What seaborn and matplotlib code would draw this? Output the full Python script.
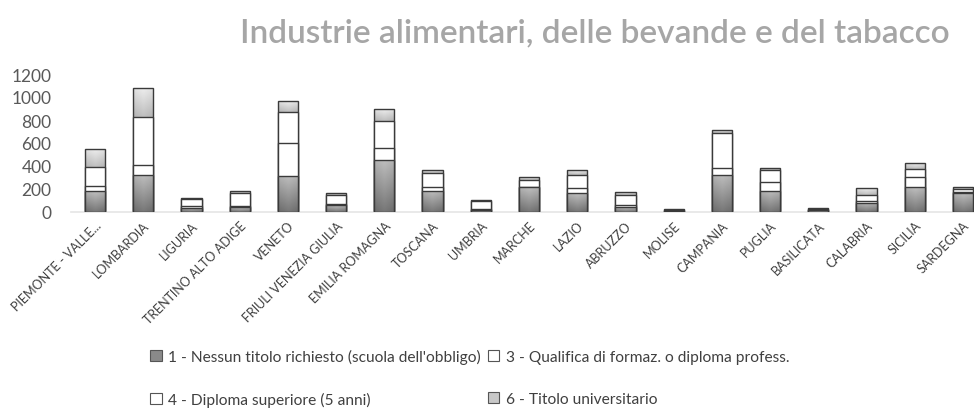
import numpy as np
import pandas as pd
import seaborn as sns
import matplotlib.pyplot as plt
from matplotlib.patches import Patch

regions = ["PIEMONTE - VALLE...", "LOMBARDIA", "LIGURIA", "TRENTINO ALTO ADIGE", "VENETO",
           "FRIULI VENEZIA GIULIA", "EMILIA ROMAGNA", "TOSCANA", "UMBRIA", "MARCHE", "LAZIO",
           "ABRUZZO", "MOLISE", "CAMPANIA", "PUGLIA", "BASILICATA", "CALABRIA", "SICILIA", "SARDEGNA"]
s1 = [180, 322, 35, 40, 316, 60, 455, 185, 20, 215, 163, 41, 10, 322, 183, 15, 80, 215, 165]
s3 = [50, 87, 20, 10, 282, 10, 100, 35, 10, 5, 46, 23, 3, 61, 81, 5, 15, 87, 10]
s4 = [165, 420, 60, 115, 275, 80, 240, 122, 65, 60, 116, 84, 8, 304, 104, 10, 50, 72, 25]
s6 = [150, 247, 5, 15, 90, 15, 100, 23, 10, 25, 40, 29, 3, 26, 18, 5, 60, 52, 20]
labels = ["1 - Nessun titolo richiesto (scuola dell'obbligo)",
          "3 - Qualifica di formaz. o diploma profess.",
          "4 - Diploma superiore (5 anni)",
          "6 - Titolo universitario"]
title = "Industrie alimentari, delle bevande e del tabacco"

sns.set_theme(style="white")
plt.rcParams['font.family'] = ['Lato', 'DejaVu Sans']

series = [s1, s3, s4, s6]
colors = ["#8f8f8f", "#ffffff", "#ffffff", "#c2c2c2"]
cum = np.cumsum(np.array(series), axis=0)

fig = plt.figure(figsize=(9.74, 4.14), dpi=100)
ax = fig.add_axes([71 / 974, (414 - 213) / 414, 1 - 71 / 974, (213 - 75) / 414])

# gradient shading: (bottom grey, top grey) for the two shaded series
grad = {0: (0.42, 0.70), 3: (0.70, 0.88)}
zorders = {3: 2, 2: 3, 1: 4, 0: 5}

for i in range(3, -1, -1):
    df = pd.DataFrame({"region": regions, "val": cum[i]})
    n_before = len(ax.patches)
    sns.barplot(data=df, x="region", y="val", color=colors[i], ax=ax,
                width=0.42, edgecolor="#3a3a3a", linewidth=1.0, saturation=1)
    new = ax.patches[n_before:]
    for j, p in enumerate(new):
        p.set_zorder(zorders[i])
        if i in grad:
            p.set_facecolor("none")
            x0 = p.get_x()
            w = p.get_width()
            top = cum[i][j]
            bot = cum[i - 1][j] if i > 0 else 0
            g0, g1 = grad[i]
            v = np.linspace(g0, g1, 64)[:, None]
            h = 1 - 0.06 * (1 - np.abs(np.linspace(-1, 1, 16)))[None, :]
            img = np.clip(v * h * 1.0 + (1 - h) * 0.0, 0, 1)
            img = np.clip(v + 0.05 * (1 - np.abs(np.linspace(-1, 1, 16)))[None, :], 0, 1)
            im = ax.imshow(img, cmap="gray", vmin=0, vmax=1, origin="lower", aspect="auto",
                           extent=(x0, x0 + w, bot, top), interpolation="bilinear",
                           zorder=zorders[i] - 0.5)
            im.set_clip_path(p)

ax.set_xlim(-0.5, 18.23)
ax.set_ylim(0, 1200)
ax.set_yticks(range(0, 1201, 200))
ax.set_xlabel("")
ax.set_ylabel("")
for sp in ["top", "right", "left"]:
    ax.spines[sp].set_visible(False)
ax.spines["bottom"].set_color("#e6e6e6")
ax.tick_params(axis="y", labelsize=12.5, labelcolor="#595959", length=0, pad=14)
ax.tick_params(axis="x", labelsize=9.0, labelcolor="#404040", length=0, pad=5)
plt.setp(ax.get_xticklabels(), rotation=45, ha="right", rotation_mode="anchor")

fig.text(0.611, 0.92, title, ha="center", va="center", fontsize=24, fontweight="semibold", color="#a6a6a6")

handles = [Patch(facecolor=c, edgecolor="#555555", linewidth=0.8) for c in ["#8a8a8a", "#ffffff", "#ffffff", "#c8c8c8"]]
order = [0, 2, 1, 3]
fig.legend([handles[k] for k in order], [labels[k] for k in order], ncol=2, loc="upper left",
           bbox_to_anchor=(136 / 974, 1 - 336 / 414),
           frameon=False, fontsize=11.2, labelcolor="#404040", handlelength=0.75, handleheight=0.75,
           handletextpad=0.4, columnspacing=0.45, labelspacing=1.8)

fig.savefig("out.png", dpi=100, facecolor="white")
